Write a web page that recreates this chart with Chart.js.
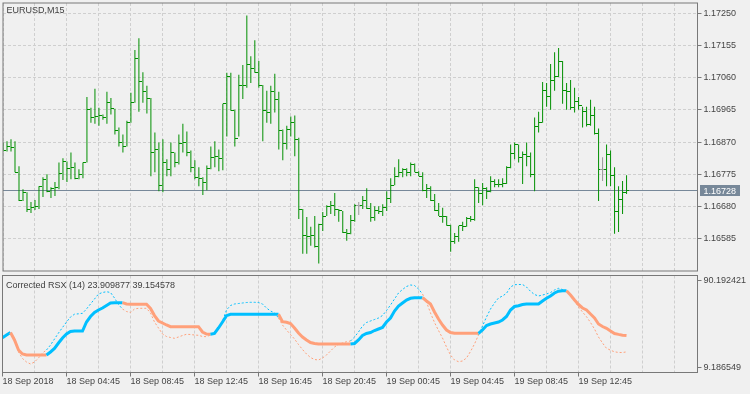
<!DOCTYPE html>
<html><head><meta charset="utf-8">
<script src="https://cdn.jsdelivr.net/npm/chart.js@4"></script>
<style>
html,body{margin:0;padding:0;background:#f0f0f0;width:750px;height:394px;overflow:hidden}
#c1{position:absolute;left:0;top:0}
#c2{position:absolute;left:0;top:274px}
</style></head><body>
<canvas id="c1" width="750" height="274"></canvas>
<canvas id="c2" width="750" height="120"></canvas>
<script>
const SYMBOL = 'EURUSD,M15';
const INDICATOR = 'Corrected RSX (14) 23.909877 39.154578';
const timeLabels = ['18 Sep 2018','18 Sep 04:45','18 Sep 08:45','18 Sep 12:45','18 Sep 16:45','18 Sep 20:45','19 Sep 00:45','19 Sep 04:45','19 Sep 08:45','19 Sep 12:45'];
const gridSteps = [0,8,16,24,32,40,48,56,64,72,80,88,96,104,112,120,128,136,144,152,160,168];
const priceTicks = [1.16585,1.16680,1.16775,1.16870,1.16965,1.17060,1.17155,1.17250];
const rsxTicks = [9.186549,90.192421];
const bidPrice = 1.16728;

const open = [1.16860,1.16845,1.16857,1.16855,1.16781,1.16699,1.16720,1.16670,1.16676,1.16679,
1.16740,1.16760,1.16725,1.16734,1.16736,1.16778,1.16813,1.16793,1.16796,1.16763,
1.16775,1.16810,1.16965,1.16942,1.16945,1.16947,1.16942,1.16986,1.16968,1.16904,
1.16869,1.16857,1.16927,1.16986,1.17115,1.17047,1.17018,1.16997,1.16839,1.16848,
1.16743,1.16810,1.16790,1.16839,1.16810,1.16866,1.16869,1.16839,1.16796,1.16766,
1.16763,1.16752,1.16793,1.16825,1.16828,1.16822,1.16983,1.17062,1.16962,1.16880,
1.17038,1.17036,1.17100,1.17088,1.17074,1.17038,1.16962,1.16957,1.17018,1.16995,
1.16904,1.16866,1.16907,1.16927,1.16878,1.16670,1.16594,1.16591,1.16594,1.16562,
1.16626,1.16652,1.16681,1.16684,1.16670,1.16667,1.16602,1.16600,1.16638,1.16684,
1.16684,1.16699,1.16673,1.16649,1.16667,1.16665,1.16676,1.16705,1.16743,1.16769,
1.16781,1.16790,1.16781,1.16804,1.16781,1.16769,1.16728,1.16734,1.16699,1.16667,
1.16652,1.16650,1.16623,1.16576,1.16591,1.16623,1.16621,1.16646,1.16643,1.16737,
1.16717,1.16734,1.16725,1.16755,1.16746,1.16744,1.16749,1.16796,1.16837,1.16863,
1.16825,1.16834,1.16828,1.16775,1.16916,1.16927,1.17021,1.17003,1.17050,1.17062,
1.17106,1.17021,1.17019,1.16971,1.16989,1.16977,1.16959,1.16921,1.16948,1.16895,
1.16790,1.16790,1.16834,1.16772,1.16664,1.16702,1.16722];
const high = [1.16869,1.16872,1.16878,1.16872,1.16799,1.16731,1.16722,1.16693,1.16699,1.16740,
1.16766,1.16775,1.16737,1.16752,1.16810,1.16822,1.16813,1.16839,1.16810,1.16790,
1.16810,1.17003,1.16971,1.17027,1.16971,1.16951,1.17018,1.17000,1.16968,1.16913,
1.16892,1.16933,1.17015,1.17141,1.17176,1.17076,1.17036,1.17000,1.16898,1.16869,
1.16878,1.16819,1.16869,1.16839,1.16892,1.16924,1.16901,1.16845,1.16816,1.16796,
1.16766,1.16801,1.16857,1.16872,1.16848,1.16983,1.17074,1.17074,1.16965,1.17068,
1.17097,1.17243,1.17123,1.17170,1.17109,1.17038,1.17021,1.17036,1.17071,1.17018,
1.16907,1.16918,1.16945,1.16948,1.16883,1.16673,1.16649,1.16620,1.16652,1.16629,
1.16664,1.16684,1.16696,1.16720,1.16673,1.16667,1.16614,1.16655,1.16687,1.16693,
1.16711,1.16734,1.16690,1.16681,1.16681,1.16687,1.16725,1.16763,1.16796,1.16819,
1.16793,1.16793,1.16810,1.16807,1.16784,1.16781,1.16746,1.16740,1.16717,1.16690,
1.16676,1.16652,1.16626,1.16602,1.16623,1.16635,1.16649,1.16652,1.16760,1.16737,
1.16749,1.16737,1.16769,1.16760,1.16760,1.16763,1.16799,1.16863,1.16869,1.16863,
1.16842,1.16869,1.16839,1.16942,1.16959,1.17047,1.17044,1.17100,1.17135,1.17147,
1.17109,1.17044,1.17053,1.17030,1.17003,1.16974,1.16974,1.16995,1.16974,1.16910,
1.16825,1.16863,1.16845,1.16796,1.16740,1.16755,1.16772];
const low = [1.16842,1.16842,1.16842,1.16781,1.16696,1.16696,1.16664,1.16661,1.16670,1.16673,
1.16708,1.16722,1.16705,1.16711,1.16731,1.16758,1.16752,1.16760,1.16760,1.16760,
1.16763,1.16810,1.16927,1.16924,1.16918,1.16936,1.16924,1.16951,1.16892,1.16857,
1.16839,1.16857,1.16927,1.16986,1.16959,1.16986,1.16954,1.16769,1.16781,1.16725,
1.16722,1.16769,1.16769,1.16796,1.16804,1.16839,1.16828,1.16781,1.16760,1.16740,
1.16714,1.16728,1.16790,1.16796,1.16784,1.16787,1.16886,1.16962,1.16857,1.16886,
1.16997,1.17030,1.17044,1.17074,1.17030,1.16872,1.16927,1.16924,1.16957,1.16848,
1.16816,1.16848,1.16886,1.16828,1.16643,1.16541,1.16541,1.16564,1.16559,1.16512,
1.16608,1.16652,1.16658,1.16652,1.16635,1.16602,1.16579,1.16598,1.16635,1.16655,
1.16673,1.16673,1.16635,1.16638,1.16658,1.16652,1.16667,1.16690,1.16743,1.16766,
1.16766,1.16769,1.16769,1.16781,1.16769,1.16725,1.16705,1.16696,1.16667,1.16652,
1.16632,1.16623,1.16547,1.16570,1.16576,1.16608,1.16620,1.16635,1.16638,1.16690,
1.16684,1.16702,1.16722,1.16737,1.16737,1.16737,1.16746,1.16793,1.16819,1.16810,
1.16746,1.16799,1.16766,1.16725,1.16898,1.16927,1.16974,1.16965,1.17021,1.17062,
1.16983,1.16965,1.16965,1.16957,1.16965,1.16913,1.16916,1.16918,1.16892,1.16696,
1.16755,1.16740,1.16740,1.16600,1.16605,1.16658,1.16717];
const close = [1.16845,1.16857,1.16855,1.16781,1.16699,1.16720,1.16670,1.16676,1.16679,1.16740,
1.16760,1.16725,1.16734,1.16736,1.16778,1.16813,1.16793,1.16796,1.16763,1.16775,
1.16810,1.16965,1.16942,1.16945,1.16947,1.16942,1.16986,1.16968,1.16904,1.16869,
1.16857,1.16927,1.16986,1.17115,1.17047,1.17018,1.16997,1.16839,1.16848,1.16743,
1.16810,1.16790,1.16839,1.16810,1.16866,1.16869,1.16839,1.16796,1.16766,1.16763,
1.16752,1.16793,1.16825,1.16828,1.16822,1.16983,1.17062,1.16962,1.16880,1.17038,
1.17036,1.17100,1.17088,1.17074,1.17038,1.16962,1.16957,1.17018,1.16995,1.16904,
1.16866,1.16907,1.16927,1.16878,1.16670,1.16594,1.16591,1.16594,1.16562,1.16626,
1.16652,1.16681,1.16684,1.16670,1.16667,1.16602,1.16600,1.16638,1.16684,1.16684,
1.16699,1.16673,1.16649,1.16667,1.16665,1.16676,1.16705,1.16743,1.16769,1.16781,
1.16790,1.16781,1.16804,1.16781,1.16769,1.16728,1.16734,1.16699,1.16667,1.16652,
1.16650,1.16623,1.16576,1.16591,1.16623,1.16621,1.16646,1.16643,1.16737,1.16717,
1.16734,1.16725,1.16755,1.16746,1.16744,1.16749,1.16796,1.16837,1.16863,1.16825,
1.16834,1.16828,1.16775,1.16916,1.16927,1.17021,1.17003,1.17050,1.17062,1.17106,
1.17021,1.17019,1.16971,1.16989,1.16977,1.16959,1.16921,1.16948,1.16895,1.16790,
1.16790,1.16834,1.16772,1.16664,1.16702,1.16722,1.16728];

const rsx = [36.84,39.17,41.03,37.12,23.81,17.76,14.50,12.64,14.50,18.22,
22.88,25.67,30.32,35.91,41.50,46.62,51.74,56.39,59.00,59.37,
59.84,63.84,68.50,73.15,77.81,79.20,79.95,79.20,74.08,68.03,
63.84,61.51,60.58,63.84,64.49,64.49,64.49,60.12,51.74,46.15,
40.57,38.24,37.31,36.56,37.77,39.17,40.29,40.10,39.63,39.36,
38.24,38.05,39.63,42.43,46.15,52.67,62.91,67.10,68.50,68.96,
69.43,69.89,70.08,70.08,69.89,68.50,64.77,61.98,60.30,55.46,
48.94,44.29,40.10,35.91,30.79,26.14,21.95,18.69,16.83,16.36,
18.22,21.01,24.74,28.46,30.79,32.19,33.40,34.05,37.77,42.43,
48.01,51.27,52.67,54.07,55.46,57.79,62.44,67.56,73.15,78.74,
82.00,84.79,86.18,85.72,82.46,77.81,70.36,60.12,51.27,43.82,
36.84,28.46,21.01,16.36,14.78,15.43,18.22,24.27,31.26,39.63,
48.01,56.39,63.84,69.43,74.08,75.94,78.46,84.32,86.46,86.65,
86.65,84.32,80.32,77.34,75.94,76.87,77.81,79.20,81.53,83.11,
82.00,80.60,76.41,71.29,65.70,61.05,56.67,51.27,45.22,37.77,
32.19,27.25,25.50,24.00,23.40,23.30,23.91];
const corrected = [37.12,39.63,41.96,34.98,25.67,21.95,21.01,21.01,21.01,21.01,
21.01,21.01,23.81,27.10,32.19,36.84,40.57,42.89,43.36,43.36,
43.36,51.74,56.86,60.58,62.91,64.77,67.10,69.43,69.71,69.71,
69.71,68.50,68.22,68.22,68.22,68.22,68.22,64.31,57.70,52.67,
50.81,48.94,47.36,47.36,47.36,47.36,47.36,47.36,47.36,47.36,
42.43,40.57,40.29,41.03,46.15,51.74,57.60,58.91,58.91,58.91,
58.91,58.91,58.91,58.91,58.91,58.91,58.91,58.91,58.91,58.91,
52.02,51.46,50.34,46.15,41.50,37.77,34.98,32.65,31.72,31.26,
31.26,31.26,31.26,31.26,31.26,31.26,31.26,31.26,31.72,34.98,
39.17,41.03,41.96,43.82,45.22,46.62,51.74,55.46,61.98,66.63,
69.43,72.22,73.80,74.36,74.36,74.36,71.29,68.50,61.05,54.53,
48.94,44.29,41.96,41.22,41.22,41.22,41.22,41.22,41.22,41.22,
44.29,48.48,49.88,50.81,51.74,53.60,56.86,62.91,66.17,66.91,
68.03,68.50,68.50,68.50,68.50,71.29,73.80,75.94,78.74,80.41,
80.88,80.88,76.87,72.22,68.03,64.77,62.91,59.19,55.46,49.88,
47.55,45.87,43.36,41.00,40.20,39.50,39.15];

const GREEN = '#008f00', DOJI = '#9a9a9a', BLUE = '#00bfff', SALMON = '#ffa07a';
const GRID = '#cfcfcf', FRAME = '#787878', TXT = '#454545', BIDC = '#778899';
const FONT = { family: '"Liberation Sans", Arial, sans-serif', size: 9 };
const CFONT = '9px "Liberation Sans", Arial, sans-serif';
const X_MAX = 173.75;
const Y_MIN = 1.164899, Y_MAX = 1.172798;
const R_MIN = 4.7175, R_MAX = 95.0341;

function tickImg(color, left) {
  const c = document.createElement('canvas'); c.width = 5; c.height = 1;
  const g = c.getContext('2d'); g.fillStyle = color; g.fillRect(left ? 0 : 3, 0, 2, 1);
  return c;
}
const imgs = { oG: tickImg(GREEN, true), cG: tickImg(GREEN, false), oD: tickImg(DOJI, true), cD: tickImg(DOJI, false) };
const isDoji = i => open[i] === close[i];

const framePlugin = {
  id: 'frame',
  beforeDatasetsDraw(chart, args, opts) {
    const ctx = chart.ctx;
    ctx.imageSmoothingEnabled = false;
    if (opts.bid) {
      const y = Math.round(chart.scales.y.getPixelForValue(bidPrice)) + 0.5;
      const a = chart.chartArea;
      ctx.save(); ctx.strokeStyle = BIDC; ctx.lineWidth = 1;
      ctx.beginPath(); ctx.moveTo(a.left, y); ctx.lineTo(a.right, y); ctx.stroke(); ctx.restore();
    }
  },
  afterDraw(chart, args, opts) {
    const { ctx, chartArea: a } = chart;
    ctx.save();
    ctx.strokeStyle = FRAME; ctx.lineWidth = 1;
    ctx.strokeRect(a.left, a.top, a.right - a.left, a.bottom - a.top);
    ctx.font = CFONT; ctx.textBaseline = 'alphabetic'; ctx.textAlign = 'left';
    ctx.fillStyle = '#404040';
    ctx.fillText(opts.title, opts.tx, opts.ty);
    if (opts.bid) {
      const yc = Math.round(chart.scales.y.getPixelForValue(bidPrice));
      ctx.fillStyle = BIDC; ctx.fillRect(700, yc - 5, 40, 11);
      ctx.fillStyle = '#ffffff'; ctx.fillText(bidPrice.toFixed(5), 703.5, yc + 4);
    }
    ctx.restore();
  }
};

const idx = close.map((_, i) => i);
const hlData = idx.map(i => ({ x: i, y: [low[i], high[i]] }));
const openData = idx.map(i => ({ x: i, y: open[i] }));
const closeData = idx.map(i => ({ x: i, y: close[i] }));

new Chart(document.getElementById('c1'), {
  type: 'line',
  data: { datasets: [
    { type: 'line', data: openData, showLine: false, pointRadius: 2, pointHoverRadius: 2,
      pointStyle: c => isDoji(c.dataIndex) ? imgs.oD : imgs.oG, order: 0 },
    { type: 'line', data: closeData, showLine: false, pointRadius: 2, pointHoverRadius: 2,
      pointStyle: c => isDoji(c.dataIndex) ? imgs.cD : imgs.cG, order: 0 },
    { type: 'bar', data: hlData, barThickness: 1, borderWidth: 0, inflateAmount: 0, grouped: false,
      backgroundColor: c => isDoji(c.dataIndex) ? DOJI : GREEN, order: 1 }
  ]},
  options: {
    responsive: false, animation: false, events: [],
    layout: { padding: { left: 2.5, top: 2.5, right: 0, bottom: 1.5 } },
    plugins: { legend: { display: false }, tooltip: { enabled: false },
      frame: { title: SYMBOL, tx: 6.5, ty: 13, bid: true } },
    scales: {
      x: { type: 'linear', min: 0, max: X_MAX, offset: false,
        afterBuildTicks: s => { s.ticks = gridSteps.map(v => ({ value: v })); },
        ticks: { display: false },
        grid: { color: GRID, drawTicks: false, offset: false },
        border: { display: false, dash: [3, 2] },
        afterFit: s => { s.height = 0; s.paddingLeft = 0; s.paddingRight = 0; } },
      y: { type: 'linear', position: 'right', min: Y_MIN, max: Y_MAX,
        afterBuildTicks: s => { s.ticks = priceTicks.map(v => ({ value: v })); },
        ticks: { font: FONT, color: TXT, padding: 2, autoSkip: false, callback: v => Number(v).toFixed(5) },
        grid: { color: GRID, tickLength: 4, tickColor: FRAME, tickBorderDash: [] },
        border: { display: false, dash: [3, 2] },
        afterFit: s => { s.width = 52.5; s.paddingTop = 0; s.paddingBottom = 0; } }
    }
  },
  plugins: [framePlugin]
});

function trendColor(i) {
  let j = i;
  while (j > 0 && corrected[j] === corrected[j - 1]) j--;
  return (j === 0 || corrected[j] > corrected[j - 1]) ? BLUE : SALMON;
}
const segColor = c => trendColor(c.p1DataIndex);

new Chart(document.getElementById('c2'), {
  type: 'line',
  data: { datasets: [
    { data: idx.map(i => ({ x: i, y: corrected[i] })), borderWidth: 3, borderColor: BLUE,
      borderCapStyle: 'butt', pointRadius: 0, tension: 0, segment: { borderColor: segColor }, order: 0 },
    { data: idx.map(i => ({ x: i, y: rsx[i] })), borderWidth: 1, borderColor: BLUE, borderDash: [2, 2],
      pointRadius: 0, tension: 0, segment: { borderColor: segColor }, order: 1 }
  ]},
  options: {
    responsive: false, animation: false, events: [],
    layout: { padding: { left: 2.5, top: 1.5, right: 0, bottom: 0 } },
    plugins: { legend: { display: false }, tooltip: { enabled: false },
      frame: { title: INDICATOR, tx: 6, ty: 14, bid: false } },
    scales: {
      x: { type: 'linear', min: 0, max: X_MAX, offset: false,
        afterBuildTicks: s => { s.ticks = gridSteps.map(v => ({ value: v })); },
        ticks: { font: FONT, color: TXT, align: 'start', padding: 0, maxRotation: 0, autoSkip: false,
          callback: v => (v % 16 === 0 && timeLabels[v / 16]) ? timeLabels[v / 16] : '' },
        grid: { color: GRID, tickLength: 4, offset: false, tickBorderDash: [],
          tickColor: c => (c.tick && c.tick.value % 16 === 0 && timeLabels[c.tick.value / 16]) ? FRAME : 'rgba(0,0,0,0)' },
        border: { display: false, dash: [3, 2] },
        afterFit: s => { s.height = 21.5; s.paddingLeft = 0; s.paddingRight = 0; } },
      y: { type: 'linear', position: 'right', min: R_MIN, max: R_MAX,
        afterBuildTicks: s => { s.ticks = rsxTicks.map(v => ({ value: v })); },
        ticks: { font: FONT, color: TXT, padding: 2, autoSkip: false, callback: v => Number(v).toFixed(6) },
        grid: { drawOnChartArea: false, tickLength: 4, tickColor: FRAME },
        border: { display: false },
        afterFit: s => { s.width = 52.5; s.paddingTop = 0; s.paddingBottom = 0; } }
    }
  },
  plugins: [framePlugin]
});
</script></body></html>
